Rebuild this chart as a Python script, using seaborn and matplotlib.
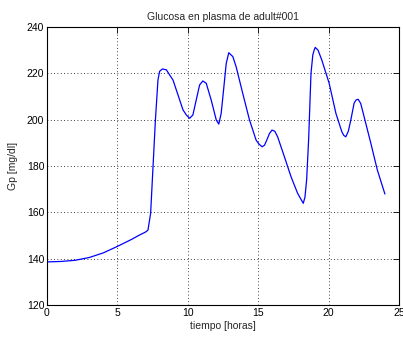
import matplotlib
matplotlib.use("Agg")
import matplotlib.pyplot as plt
import seaborn as sns
import pandas as pd

hours = [0.0, 1.0, 2.0, 3.0, 4.0, 5.0, 6.0, 6.6, 7.0, 7.17, 7.36, 7.53, 7.7, 7.88,
         8.0, 8.2, 8.48, 8.71, 8.95, 9.66, 9.9, 10.13, 10.36, 10.65, 10.84, 11.07,
         11.31, 11.66, 12.02, 12.2, 12.37, 12.54, 12.73, 12.91, 13.2, 13.43,
         13.9, 14.38, 14.85, 15.05, 15.28, 15.45, 15.61, 15.8, 15.98, 16.18, 16.38,
         16.86, 17.33, 17.8, 18.05, 18.2, 18.32, 18.44, 18.58, 18.75, 18.88, 18.98,
         19.05, 19.25, 19.52, 20.04, 20.52, 20.94, 21.08, 21.22, 21.4, 21.58, 21.81,
         21.95, 22.1, 22.28, 22.52, 23.0, 23.46, 24.0]
glucose = [138.6, 138.8, 139.3, 140.5, 142.5, 145.3, 148.3, 150.3, 151.5, 152.3, 159.6,
           179.7, 199.9, 217.1, 220.9, 221.9, 221.5, 219.3, 217.1, 204.2, 202.0, 200.6,
           202.0, 209.9, 215.0, 216.7, 215.7, 208.5, 199.9, 198.1, 202.7, 212.8,
           224.3, 228.9, 227.2, 222.9, 211.4, 199.9, 191.2, 189.5, 188.3, 189.0,
           191.2, 194.0, 195.5, 195.0, 192.6, 184.0, 175.4, 168.2, 165.5, 163.9,
           166.5, 174.0, 191.2, 220.0, 228.0, 230.1, 231.2, 230.0, 225.7, 215.7,
           202.7, 194.8, 193.2, 192.6, 195.0, 199.9, 207.1, 208.5, 208.8, 207.0,
           201.3, 189.8, 178.3, 167.9]

title = "Glucosa en plasma de adult#001"
xlabel = "tiempo [horas]"
ylabel = "Gp [mg/dl]"
xticks = [0, 5, 10, 15, 20, 25]
yticks = [120, 140, 160, 180, 200, 220, 240]

sns.set_style("white")
plt.rcParams['font.family'] = ['Liberation Sans', 'DejaVu Sans']

df = pd.DataFrame({"t": hours, "g": glucose})

fig = plt.figure(figsize=(4.03, 3.38), dpi=100)
ax = fig.add_axes([47/403, 1 - 305/338, (399 - 47)/403, (305 - 27)/338])
sns.lineplot(data=df, x="t", y="g", ax=ax, color="#0000ff", linewidth=0.9)

ax.set_xlim(0, 25)
ax.set_ylim(120, 240)
ax.set_xticks(xticks)
ax.set_yticks(yticks)
ax.grid(True, linestyle=(0, (1, 3)), color="black", linewidth=0.6)
ax.tick_params(direction="in", top=True, right=True, length=4, width=0.6,
               labelsize=7.5, colors="black", pad=2)
for s in ax.spines.values():
    s.set_visible(True)
    s.set_color("black")
    s.set_linewidth(0.8)
ax.set_title(title, fontsize=7.5, pad=5)
ax.set_xlabel(xlabel, fontsize=7.5, labelpad=2)
ax.set_ylabel(ylabel, fontsize=7.5, labelpad=6)

fig.savefig("out.png", dpi=100)
